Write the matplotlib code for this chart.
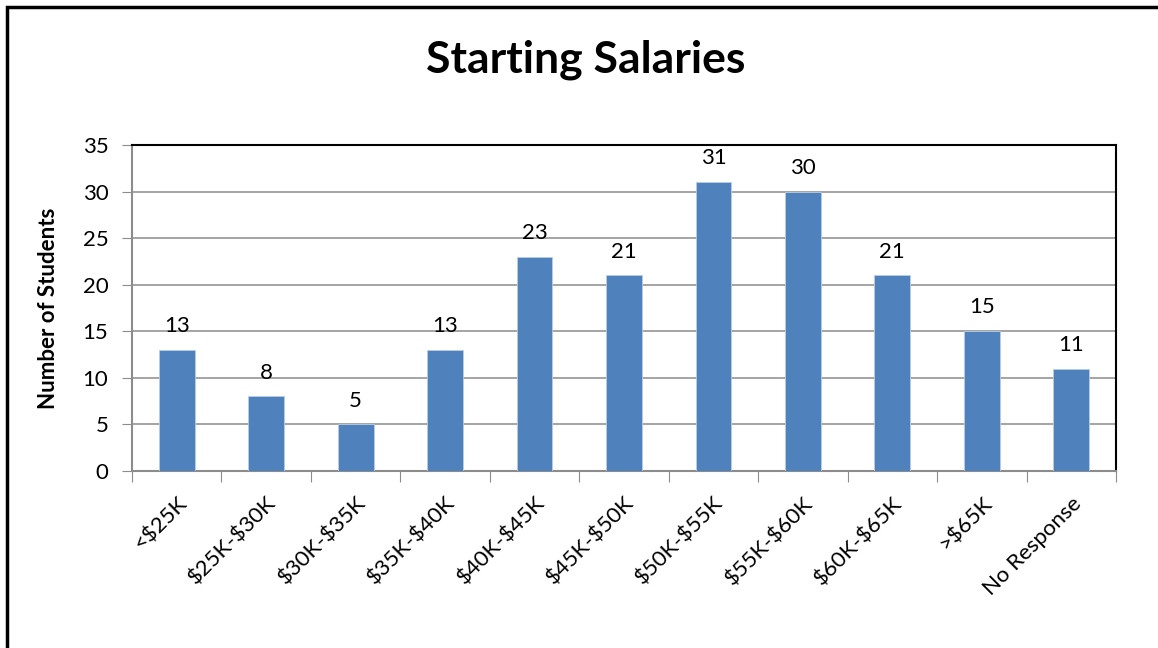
import matplotlib.pyplot as plt
from matplotlib.patches import Rectangle

plt.rcParams['font.family'] = ['Lato', 'DejaVu Sans']
plt.rcParams['text.parse_math'] = False

# salary ranges and how many students reported each
categories = ['<$25K', '$25K-$30K', '$30K-$35K', '$35K-$40K', '$40K-$45K',
              '$45K-$50K', '$50K-$55K', '$55K-$60K', '$60K-$65K', '>$65K',
              'No Response']
students = [13, 8, 5, 13, 23, 21, 31, 30, 21, 15, 11]
yticks = [0, 5, 10, 15, 20, 25, 30, 35]

fig = plt.figure(figsize=(11.58, 6.48), dpi=100)
ax = fig.add_axes([132/1158, 1 - 471/648, (1116-132)/1158, (471-145)/648])

x = range(len(categories))
bars = ax.bar(x, students, width=0.4, color='#4F81BD', edgecolor='#B9CDE5',
              linewidth=0.6, zorder=3)

for b, v in zip(bars, students):
    ax.annotate(str(v), (b.get_x() + b.get_width()/2, v), xytext=(0, 10),
                textcoords='offset points', ha='center', va='bottom',
                fontsize=16)

ax.set_xlim(-0.5, len(categories) - 0.5)
ax.set_ylim(0, 35)
ax.set_yticks(yticks)
ax.tick_params(axis='y', labelsize=16, length=7, color='#8C8C8C', pad=10)
ax.grid(axis='y', color='#8C8C8C', linewidth=1.1, zorder=0)

# ticks at category boundaries, labels at centres
ax.set_xticks([i - 0.5 for i in range(len(categories) + 1)])
ax.set_xticklabels([])
ax.set_xticks(list(x), minor=True)
ax.set_xticklabels(categories, minor=True, rotation=45, ha='right',
                   rotation_mode='anchor', fontsize=16)
ax.tick_params(axis='x', which='major', length=8, color='#8C8C8C')
ax.tick_params(axis='x', which='minor', length=0, pad=16)

for s in ['left', 'bottom']:
    ax.spines[s].set_color('#8C8C8C')
    ax.spines[s].set_linewidth(1.5)
for s in ['top', 'right']:
    ax.spines[s].set_color('black')
    ax.spines[s].set_linewidth(1.5)

ax.set_ylabel('Number of Students', fontsize=16, fontweight='bold', labelpad=17)
fig.text(586/1158, 1 - 60/648, 'Starting Salaries', fontsize=32,
         fontweight='bold', ha='center', va='center')

# outer chart border
fig.patches.append(Rectangle((7/1158, -0.1), 1.2, 1 - 7/648 + 0.1,
                             transform=fig.transFigure, fill=False,
                             edgecolor='black', linewidth=2.5))

fig.savefig('out.png', dpi=100)
